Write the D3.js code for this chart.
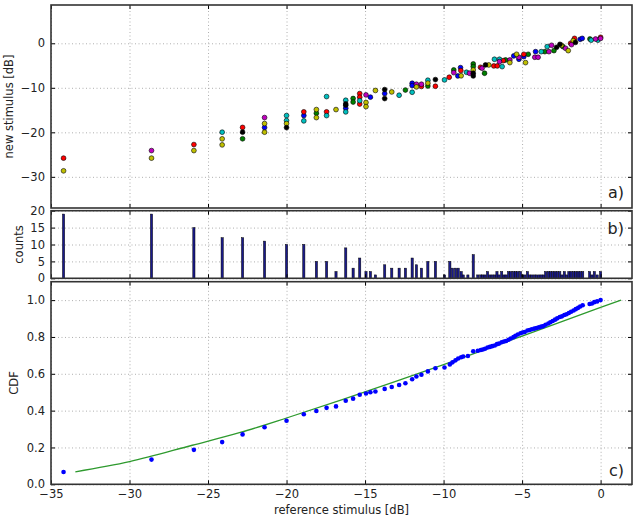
<!DOCTYPE html>
<html><head><meta charset="utf-8">
<script src="https://cdn.jsdelivr.net/npm/d3@7"></script>
<style>
body{margin:0;background:#fff}
svg{display:block}
text{font-family:"DejaVu Sans",sans-serif}
</style>
</head><body>
<svg id="chart" width="638" height="517"></svg>
<script>
// ---------- DATA ----------
const xTicks = [-35, -30, -25, -20, -15, -10, -5, 0];
const yTicksA = [-30, -20, -10, 0];
const yTicksB = [0, 5, 10, 15, 20];
const yTicksC = [0, 0.2, 0.4, 0.6, 0.8, 1.0];

// reference stimulus levels (panel b bars and panel c points)
const levels = [-34.2, -28.6, -25.9, -24.1, -22.8, -21.4, -20.0, -18.9, -18.1, -17.45,
  -16.85, -16.23, -15.76, -15.34, -14.94, -14.66, -14.34, -13.75, -13.3, -12.83,
  -12.43, -12.0, -11.73, -11.41, -11.0, -10.52, -9.94, -9.6, -9.43, -9.24,
  -9.07, -8.88, -8.75, -8.45, -8.11,
  -7.82, -7.63, -7.5, -7.36, -7.2, -7.05, -6.9, -6.74, -6.6, -6.47,
  -6.3, -6.15, -6.02, -5.86, -5.72, -5.55, -5.42, -5.27, -5.1, -4.97,
  -4.83, -4.66, -4.52, -4.38, -4.22, -4.08, -3.93, -3.78, -3.64, -3.5,
  -3.33, -3.2, -3.05, -2.9, -2.76, -2.6, -2.46, -2.31, -2.17, -2.02,
  -1.88, -1.72, -1.58, -1.43, -1.3, -1.14, -0.7, -0.55, -0.4, -0.22, 0.0];

const counts = [19, 19, 15, 12, 12, 11, 10, 10, 5, 5,
  2, 9, 3, 6, 2, 2, 1, 4, 3, 3,
  3, 6, 4, 3, 5, 5, 1, 5, 3, 3,
  3, 2, 1, 1, 7,
  1, 1, 1, 1, 2, 1, 1, 1, 2, 1,
  2, 1, 1, 2, 2, 2, 2, 2, 2, 1,
  1, 2, 1, 1, 1, 1, 1, 1, 1, 2,
  2, 2, 2, 2, 2, 2, 1, 2, 1, 2,
  2, 2, 2, 2, 2, 2, 2, 1, 2, 1, 2];

const cdfValues = [0.067, 0.134, 0.187, 0.229, 0.271, 0.310, 0.345, 0.380, 0.398, 0.415,
  0.423, 0.454, 0.465, 0.486, 0.493, 0.500, 0.504, 0.518, 0.528, 0.539,
  0.549, 0.570, 0.585, 0.595, 0.613, 0.630, 0.634, 0.651, 0.662, 0.673,
  0.683, 0.690, 0.694, 0.697, 0.722,
  0.725, 0.729, 0.732, 0.736, 0.743, 0.746, 0.750, 0.754, 0.761, 0.764,
  0.771, 0.775, 0.778, 0.785, 0.792, 0.799, 0.806, 0.813, 0.820, 0.824,
  0.827, 0.835, 0.838, 0.842, 0.845, 0.849, 0.852, 0.856, 0.859, 0.866,
  0.873, 0.880, 0.887, 0.894, 0.901, 0.908, 0.912, 0.919, 0.923, 0.930,
  0.937, 0.944, 0.951, 0.958, 0.965, 0.972, 0.979, 0.982, 0.989, 0.993, 1.000];

// fitted curve (panel c)
const fitX = [-33.45, -30, -26, -23, -20, -16.5, -13, -10, -5, 0, 1.3];
const fitY = [0.068, 0.123, 0.212, 0.28, 0.36, 0.458, 0.56, 0.65, 0.805, 0.96, 1.0];

// panel a: new stimulus per subject (colour)
const seriesBlue = [[-21.4,-18.93],[-18.9,-16.24],[-16.23,-14.59],[-14.66,-12.1],[-13.75,-11.3],[-12.0,-8.98],[-12.0,-9.5],[-9.09,-7.34],[-8.92,-5.47],[-5.53,-2.85],[-5.2,-3.59],[-4.89,-3.0],[-4.14,-1.88],[-1.3,0.9],[-1.17,1.1]];
const seriesGreen = [[-22.8,-21.45],[-18.1,-15.7],[-15.76,-12.4],[-15.76,-13.2],[-12.43,-10.5],[-11.0,-9.6],[-9.35,-5.99],[-8.11,-4.64],[-8.11,-5.24],[-7.39,-6.73],[-6.05,-3.75],[-4.61,-2.47],[-3.55,-1.88],[-2.97,-1.65],[-2.4,-0.75],[-0.68,0.96]];
const seriesRed = [[-34.2,-25.8],[-25.9,-22.75],[-22.8,-18.9],[-18.9,-15.4],[-17.45,-15.4],[-15.34,-11.3],[-15.34,-12.1],[-15.34,-13.65],[-11.41,-9.7],[-10.52,-9.65],[-9.64,-7.63],[-8.9,-6.14],[-7.65,-5.39],[-6.8,-5.09],[-6.58,-5.09],[-6.2,-3.9],[-4.89,-2.47],[-1.91,0.0],[-1.66,1.1],[0.0,1.35]];
const seriesCyan = [[-24.1,-19.97],[-20.0,-16.24],[-20.0,-17.36],[-18.9,-17.43],[-17.45,-11.97],[-17.45,-16.24],[-16.23,-12.8],[-16.23,-15.41],[-15.34,-12.9],[-12.83,-11.67],[-12.0,-11.0],[-11.0,-8.3],[-9.94,-8.23],[-8.54,-6.51],[-6.76,-3.59],[-6.44,-3.59],[-6.27,-5.24],[-3.78,-1.88],[-3.4,-0.75],[-0.6,0.7],[-0.17,0.7]];
const seriesMagenta = [[-28.6,-24.1],[-21.4,-16.69],[-14.94,-11.6],[-11.73,-9.2],[-11.41,-9.2],[-9.35,-6.59],[-8.35,-6.73],[-7.55,-5.6],[-6.44,-4.12],[-5.78,-3.75],[-5.2,-3.14],[-4.19,-3.14],[-3.98,-3.14],[-3.29,-1.88],[-3.12,-0.45],[-2.23,-1.13],[-1.85,-0.3],[-0.32,0.96],[0.0,1.1]];
const seriesYellow = [[-34.2,-28.65],[-28.6,-25.8],[-25.9,-24.1],[-24.1,-21.47],[-24.1,-22.82],[-21.4,-18.03],[-21.4,-19.97],[-20.0,-18.03],[-18.1,-14.89],[-18.1,-16.69],[-16.85,-14.89],[-14.94,-13.3],[-14.94,-14.22],[-14.34,-10.6],[-13.3,-10.93],[-11.73,-9.8],[-11.0,-8.95],[-8.88,-7.3],[-8.11,-5.99],[-7.12,-4.87],[-5.78,-4.34],[-5.35,-2.47],[-4.78,-4.34],[-2.49,-0.45],[-2.06,-1.65],[-1.74,0.6]];
const seriesBlack = [[-22.8,-19.97],[-20.0,-18.93],[-16.23,-13.62],[-16.23,-13.9],[-13.75,-10.4],[-13.75,-12.42],[-10.52,-8.15],[-8.11,-6.73],[-8.11,-7.34],[-7.33,-4.87],[-2.8,-0.9],[-2.59,-0.23],[-1.6,0.2]];

const seriesList = [
  {pts: seriesBlue, color: "#0000ff"},
  {pts: seriesGreen, color: "#008000"},
  {pts: seriesRed, color: "#ff0000"},
  {pts: seriesCyan, color: "#00bfbf"},
  {pts: seriesMagenta, color: "#bf00bf"},
  {pts: seriesYellow, color: "#bfbf00"},
  {pts: seriesBlack, color: "#000000"}
];

// ---------- DRAW ----------
const svg = d3.select("#chart");
const L = 51, R = 632;
const x = d3.scaleLinear().domain([-35, 2]).range([L, R]);
const ya = d3.scaleLinear().domain([-37, 8.6]).range([208, 5]);
const yb = d3.scaleLinear().domain([0, 20]).range([278.3, 210.7]);
const yc = d3.scaleLinear().domain([0, 1.1]).range([484.3, 281.7]);
const FS = 11.5;

function panel(id, y, yTicks, fmt, showX) {
  const [b, t] = y.range();
  const h = b - t;
  const g = svg.append("g");
  g.append("clipPath").attr("id", "clip" + id)
    .append("rect").attr("x", L).attr("y", t).attr("width", R - L).attr("height", h);
  const grid = g.append("g").attr("class", "grid");
  grid.append("g").attr("transform", `translate(0,${b})`)
    .call(d3.axisBottom(x).tickValues(xTicks).tickSize(-h).tickFormat(""));
  grid.append("g").attr("transform", `translate(${L},0)`)
    .call(d3.axisLeft(y).tickValues(yTicks).tickSize(-(R - L)).tickFormat(""));
  grid.selectAll(".domain").remove();
  grid.selectAll("line").attr("stroke", "#9a9a9a").attr("stroke-width", 0.8).attr("stroke-dasharray", "1,2.5");
  const data = g.append("g").attr("clip-path", `url(#clip${id})`);
  const ax = g.append("g");
  ax.append("g").attr("transform", `translate(0,${b})`)
    .call(d3.axisBottom(x).tickValues(xTicks).tickSize(-4).tickPadding(6)
      .tickFormat(showX ? d3.format("d") : ""));
  ax.append("g").attr("transform", `translate(0,${t})`)
    .call(d3.axisTop(x).tickValues(xTicks).tickSize(-4).tickFormat(""));
  ax.append("g").attr("transform", `translate(${L},0)`)
    .call(d3.axisLeft(y).tickValues(yTicks).tickSize(-4).tickPadding(6).tickFormat(fmt));
  ax.append("g").attr("transform", `translate(${R},0)`)
    .call(d3.axisRight(y).tickValues(yTicks).tickSize(-4).tickFormat(""));
  ax.selectAll(".domain").remove();
  ax.selectAll("line").attr("stroke", "#000").attr("stroke-width", 1);
  ax.selectAll("text").attr("font-size", FS).attr("fill", "#222").attr("font-family", "DejaVu Sans, sans-serif");
  g.append("rect").attr("x", L).attr("y", t).attr("width", R - L).attr("height", h)
    .attr("fill", "none").attr("stroke", "#333").attr("stroke-width", 1.6);
  return data;
}

// panel a
const da = panel("a", ya, yTicksA, d3.format("d"), false);
seriesList.forEach(s => {
  da.selectAll(null).data(s.pts).enter().append("circle")
    .attr("cx", d => x(d[0])).attr("cy", d => ya(d[1])).attr("r", 2.4)
    .attr("fill", s.color).attr("stroke", "#000").attr("stroke-width", 0.6);
});

// panel b
const db = panel("b", yb, yTicksB, d3.format("d"), false);
db.selectAll("rect.bar").data(levels.map((v, i) => [v, counts[i]])).enter().append("rect")
  .attr("class", "bar")
  .attr("x", d => x(d[0]) - 1.1).attr("width", 2.2)
  .attr("y", d => yb(d[1])).attr("height", d => yb(0) - yb(d[1]))
  .attr("fill", "#1a1a8a").attr("stroke", "#000").attr("stroke-width", 0.5);

// panel c
const dc = panel("c", yc, yTicksC, d3.format(".1f"), true);
const fitLine = d3.line().x(d => x(d[0])).y(d => yc(d[1])).curve(d3.curveMonotoneX);
dc.append("path").datum(fitX.map((v, i) => [v, fitY[i]]))
  .attr("d", fitLine).attr("fill", "none").attr("stroke", "#2e9a2e").attr("stroke-width", 1.3);
dc.selectAll("circle").data(levels.map((v, i) => [v, cdfValues[i]])).enter().append("circle")
  .attr("cx", d => x(d[0])).attr("cy", d => yc(d[1])).attr("r", 2.3)
  .attr("fill", "#0000ff");

// labels
function vlabel(txt, cx, cy) {
  svg.append("text").attr("transform", `translate(${cx},${cy}) rotate(-90)`)
    .attr("text-anchor", "middle").attr("dominant-baseline", "central")
    .attr("font-size", FS).attr("fill", "#222").text(txt);
}
vlabel("new stimulus [dB]", 8.5, 106.5);
vlabel("counts", 19, 244.5);
vlabel("CDF", 14, 383);
svg.append("text").attr("x", (L + R) / 2).attr("y", 514).attr("text-anchor", "middle")
  .attr("font-size", FS).attr("fill", "#222").text("reference stimulus [dB]");
[["a)", 198], ["b)", 234], ["c)", 476]].forEach(([t, yy]) => {
  svg.append("text").attr("x", 624).attr("y", yy).attr("text-anchor", "end")
    .attr("font-size", 16).attr("fill", "#222").text(t);
});
</script>
</body></html>
